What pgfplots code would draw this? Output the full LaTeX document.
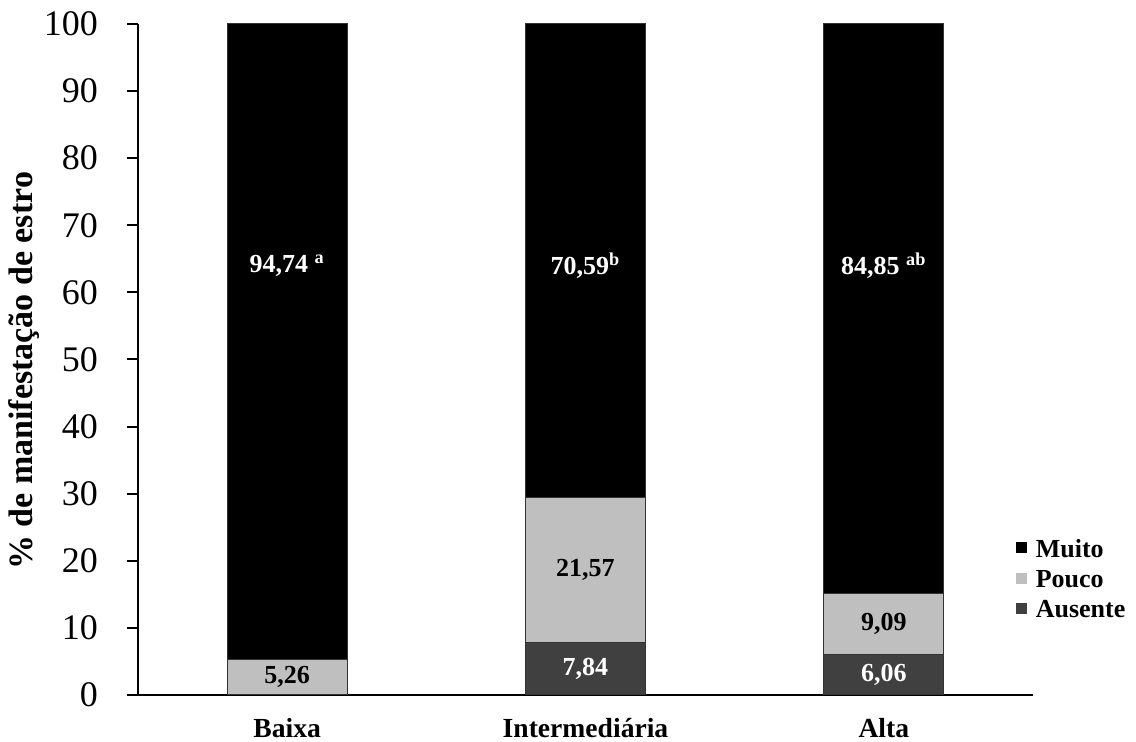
\documentclass[border=0pt]{standalone}
\usepackage{fontspec}
\setmainfont{Liberation Serif}
\usepackage{pgfplots}
\pgfplotsset{compat=1.18}

\definecolor{muito}{HTML}{000000}
\definecolor{pouco}{HTML}{BFBFBF}
\definecolor{ausente}{HTML}{404040}
\definecolor{barline}{HTML}{333333}

\newcommand{\vallabel}{\bfseries\fontsize{13}{15}\selectfont}

\begin{document}
\begin{tikzpicture}
\useasboundingbox (-69pt,-23.5pt) rectangle (499pt,347.5pt);
\begin{axis}[
  scale only axis,
  width=447.5pt, height=335.5pt,
  ybar stacked, bar width=60pt,
  xmin=-0.5, xmax=2.5, ymin=0, ymax=100,
  xtick={0,1,2},
  xticklabels={Baixa,Intermediária,Alta},
  ytick={0,10,20,30,40,50,60,70,80,90,100},
  yticklabels={0,10,20,30,40,50,60,70,80,90,100},
  axis x line*=bottom, axis y line*=left,
  axis line style={-, line width=1pt, black},
  x tick style={draw=none},
  y tick style={line width=1pt, black},
  tick align=outside, major tick length=5.5pt,
  yticklabel style={font=\fontsize{18}{21}\selectfont},
  yticklabel shift=11pt,
  xticklabel style={font=\bfseries\fontsize{13.8}{16}\selectfont, anchor=base, yshift=-16pt},
  ylabel={\% de manifestação de estro},
  ylabel style={font=\bfseries\fontsize{17}{20}\selectfont,
    at={(axis description cs:-0.1275,0.483)}, anchor=center},
  reverse legend,
  legend cell align=left,
  legend style={draw=none, fill=none,
    font=\bfseries\fontsize{13}{15}\selectfont,
    at={(0.9735,0.174)}, anchor=west,
    nodes={inner sep=0.8pt, text height=9.2pt, text depth=0pt},
    row sep=4.4pt},
  legend image code/.code={\fill[#1, draw=none] (0pt,-2.8pt) rectangle (5.6pt,2.8pt);
    \path (9pt,0pt);},
]
% stacked from the bottom: Ausente, Pouco, Muito
\addplot[fill=ausente, draw=barline, line width=0.5pt]
  coordinates {(0,0) (1,7.84) (2,6.06)};
\addplot[fill=pouco, draw=barline, line width=0.5pt]
  coordinates {(0,5.26) (1,21.57) (2,9.09)};
\addplot[fill=muito, draw=barline, line width=0.5pt]
  coordinates {(0,94.74) (1,70.59) (2,84.85)};
\legend{Ausente,Pouco,Muito}

% anchor points for the segment values
\coordinate (m0) at (axis cs:0,64);
\coordinate (m1) at (axis cs:1,64);
\coordinate (m2) at (axis cs:2,64);
\coordinate (p0) at (axis cs:0,2.63);
\coordinate (p1) at (axis cs:1,18.625);
\coordinate (p2) at (axis cs:2,10.605);
\coordinate (a1) at (axis cs:1,3.92);
\coordinate (a2) at (axis cs:2,3.03);
\end{axis}

% segment values, drawn over the bars
\node[white, font=\vallabel] at (m0) {94,74 \textsuperscript{a}};
\node[white, font=\vallabel] at (m1) {70,59\textsuperscript{b}};
\node[white, font=\vallabel] at (m2) {84,85 \textsuperscript{ab}};
\node[black, font=\vallabel] at (p0) {5,26};
\node[black, font=\vallabel] at (p1) {21,57};
\node[black, font=\vallabel] at (p2) {9,09};
\node[white, font=\vallabel] at (a1) {7,84};
\node[white, font=\vallabel] at (a2) {6,06};
\end{tikzpicture}
\end{document}
